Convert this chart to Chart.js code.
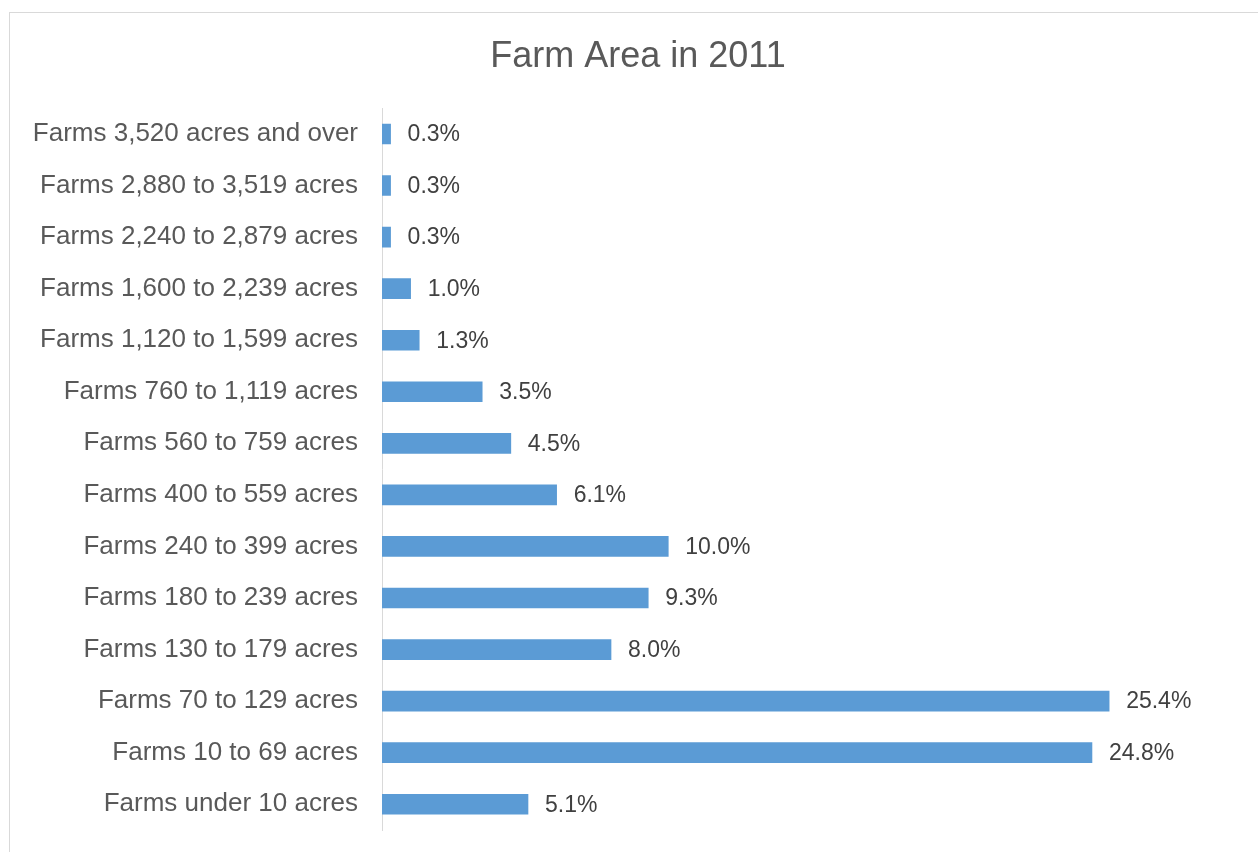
<!DOCTYPE html>
<html lang="en">
<head>
    <meta charset="UTF-8">
    <title>Farm Area in 2011</title>
<script src="https://cdn.jsdelivr.net/npm/chart.js@4.4.1/dist/chart.umd.min.js"></script>
<style>
    body{margin:0;overflow:hidden;background:#fff;}
    canvas{display:block;}
</style>
</head>
<body>
    <canvas id="myChart" width="1258" height="852"></canvas>
<script>
// farm size groups, top row first
var v_labels = [
    'Farms 3,520 acres and over',
    'Farms 2,880 to 3,519 acres',
    'Farms 2,240 to 2,879 acres',
    'Farms 1,600 to 2,239 acres',
    'Farms 1,120 to 1,599 acres',
    'Farms 760 to 1,119 acres',
    'Farms 560 to 759 acres',
    'Farms 400 to 559 acres',
    'Farms 240 to 399 acres',
    'Farms 180 to 239 acres',
    'Farms 130 to 179 acres',
    'Farms 70 to 129 acres',
    'Farms 10 to 69 acres',
    'Farms under 10 acres'
];
// share of farm area, percent
var v_share = [0.3, 0.3, 0.3, 1.0, 1.3, 3.5, 4.5, 6.1, 10.0, 9.3, 8.0, 25.4, 24.8, 5.1];

var v_font = '"Liberation Sans", Arial, sans-serif';

// light frame round the chart area
var f_frame = {
    id: 'frame',
    beforeDraw: function(chart){
        var ctx = chart.ctx;
        ctx.save();
        ctx.strokeStyle = '#d9d9d9';
        ctx.lineWidth = 1;
        ctx.strokeRect(9.5, 12.5, 1400, 1000);
        ctx.restore();
    }
};

// value written at the end of each bar
var f_barLabels = {
    id: 'barLabels',
    afterDatasetsDraw: function(chart){
        var ctx = chart.ctx;
        var meta = chart.getDatasetMeta(0);
        ctx.save();
        ctx.font = '23px ' + v_font;
        ctx.fillStyle = '#404040';
        ctx.textAlign = 'left';
        ctx.textBaseline = 'middle';
        meta.data.forEach(function(bar, i){
            ctx.fillText(v_share[i].toFixed(1) + '%', bar.x + 17, bar.y + 1);
        });
        ctx.restore();
    }
};

const ctx = document.getElementById('myChart').getContext('2d');
const myChart = new Chart(ctx, {
    type: 'bar',
    data: {
        labels: v_labels,
        datasets: [{
            data: v_share,
            backgroundColor: '#5b9bd5',
            borderWidth: 0,
            barThickness: 20
        }]
    },
    plugins: [f_frame, f_barLabels],
    options: {
        indexAxis: 'y',
        responsive: false,
        animation: false,
        layout: {
            padding: {left: 18, right: 0, top: 0, bottom: 22}
        },
        plugins: {
            legend: {display: false},
            tooltip: {enabled: false},
            title: {
                display: true,
                text: 'Farm Area in 2011',
                color: '#595959',
                font: {family: v_font, size: 36, weight: 'normal'},
                padding: {top: 35, bottom: 30}
            }
        },
        scales: {
            x: {
                display: false,
                min: 0,
                max: 30.6
            },
            y: {
                grid: {display: false, drawTicks: false},
                border: {display: true, color: '#d9d9d9', width: 1},
                ticks: {
                    color: '#595959',
                    padding: 24,
                    font: {family: v_font, size: 26}
                },
                afterFit: function(scale){
                    // fixed label column, no extra room above/below the bars
                    scale.width = 364;
                    scale.paddingTop = 0;
                    scale.paddingBottom = 0;
                }
            }
        }
    }
});
</script>
</body>
</html>
